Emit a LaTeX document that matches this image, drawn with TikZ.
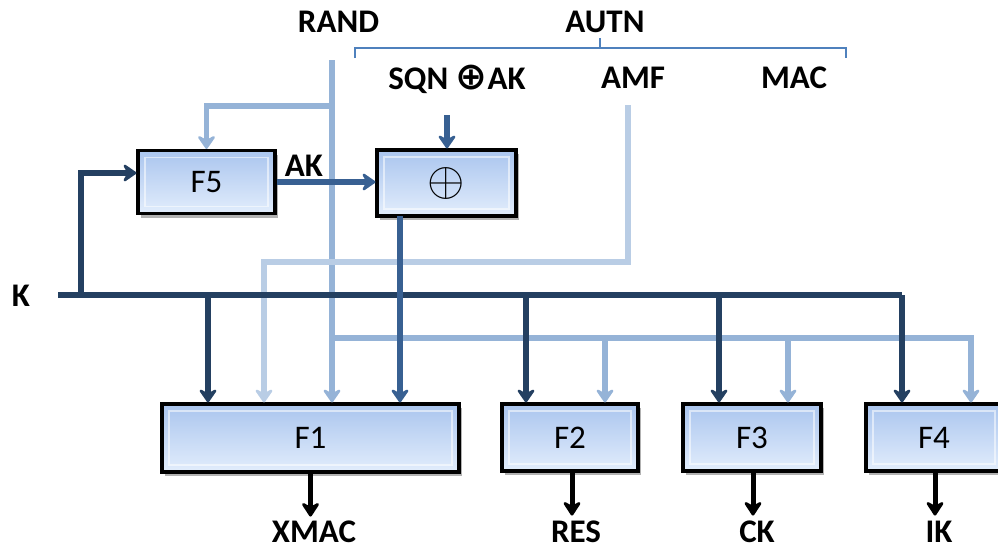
\documentclass[tikz,border=0pt]{standalone}
\usepackage{fontspec}
\usepackage{graphicx}
\setmainfont{Carlito}
\newfontfamily\symfnt{DejaVu Sans}
\usetikzlibrary{arrows.meta,shadows}
\definecolor{kcol}{RGB}{36,64,97}
\definecolor{medcol}{RGB}{56,96,146}
\definecolor{randcol}{RGB}{149,179,215}
\definecolor{amfcol}{RGB}{185,205,229}
\definecolor{bracecol}{RGB}{79,129,189}
\definecolor{boxtop}{RGB}{170,197,238}
\definecolor{boxbot}{RGB}{226,237,252}
\begin{document}
\begin{tikzpicture}[x=1pt,y=-1pt,
  tip/.style={-{Stealth[length=16pt,width=22pt,inset=6pt,round]}},
  fbox/.style={draw=black,line width=3.2pt,top color=boxtop,bottom color=boxbot,
    drop shadow={shadow xshift=3pt,shadow yshift=-4pt,opacity=0.3,fill=black},
    path picture={\draw[white,opacity=0.55,line width=1.2pt]
      ([shift={(7pt,-7pt)}]path picture bounding box.north west) rectangle
      ([shift={(-7pt,7pt)}]path picture bounding box.south east);},
    font=\fontsize{33}{36}\selectfont,inner sep=0pt},
  lab/.style={font=\fontsize{33}{36}\selectfont\bfseries,inner sep=0pt},
  kline/.style={draw=kcol,line width=5.5pt},
  medline/.style={draw=medcol,line width=5.5pt},
  randline/.style={draw=randcol,line width=5.5pt},
  amfline/.style={draw=amfcol,line width=5.5pt},
  outline/.style={draw=black,line width=5pt,-{Stealth[length=17pt,width=22pt,inset=6pt,round]}},
  bracestyle/.style={draw=bracecol,line width=2.4pt}]
\useasboundingbox (0,0) rectangle (998,549);

% boxes
\node[fbox,minimum width=137pt,minimum height=63pt] (F5) at (206.5,182) {F5};
\node[fbox,minimum width=139pt,minimum height=66pt] (xor) at (446.5,183) {\fontsize{10}{12}\selectfont\scalebox{4.8}{$\oplus$}};
\node[fbox,minimum width=297pt,minimum height=68pt] (F1) at (310.5,438) {F1};
\node[fbox,minimum width=136pt,minimum height=67pt] (F2) at (570,437.5) {F2};
\node[fbox,minimum width=138pt,minimum height=67pt] (F3) at (752,437.5) {F3};
\node[fbox,minimum width=136pt,minimum height=67pt] (F4) at (934,437.5) {F4};

% labels
\node[lab] (rand) at (338.5,22) {RAND};
\node[lab] (autn) at (605,22) {AUTN};
\node[lab] (sqn) at (457,79) {SQN {\symfnt\bfseries\fontsize{38}{38}\selectfont ⊕}AK};
\node[lab] (amf) at (633,78) {AMF};
\node[lab] (mac) at (794,78) {MAC};
\node[lab] (ak) at (304,166) {AK};
\node[lab] (K) at (21,296) {K};
\node[lab] (xmac) at (314,532) {XMAC};
\node[lab] (res) at (576,532) {RES};
\node[lab] (ck) at (757,532) {CK};
\node[lab] (ik) at (939,532) {IK};

% AUTN brace
\draw[bracestyle] (355,58) -- (355,48) -- (846,48) -- (846,58);
\draw[bracestyle] (600,48) -- (600,38);

% RAND
\coordinate (randtop) at (332,60);
\coordinate (randsplit) at (332,106);
\coordinate (randbus) at (332,338);
\coordinate (r2) at (605,338);
\coordinate (r3) at (788,338);
\coordinate (r4) at (971,338);
\draw[randline,tip] (randtop) -- (randtop |- F1.north);
\draw[randline,tip] (randsplit) -| (F5.north);
\draw[randline,tip] (randbus) -| (r4 |- F4.north);
\draw[randline,tip] (r2) -- (r2 |- F2.north);
\draw[randline,tip] (r3) -- (r3 |- F3.north);

% AMF
\coordinate (amftop) at (628,105);
\coordinate (amfx) at (264,262);
\draw[amfline,tip] (amftop) |- (amfx) -- (amfx |- F1.north);

% K
\coordinate (kstart) at (58,295);
\coordinate (kup) at (81,295);
\coordinate (k1) at (208,295);
\coordinate (k2) at (526,295);
\coordinate (k3) at (719,295);
\coordinate (kend) at (902,295);
\coordinate (kf5) at (81,173);
\draw[kline] (kstart) -- (kend);
\draw[kline,tip] (kend) -- (kend |- F4.north);
\draw[kline,tip] (k1) -- (k1 |- F1.north);
\draw[kline,tip] (k2) -- (k2 |- F2.north);
\draw[kline,tip] (k3) -- (k3 |- F3.north);
\draw[kline,tip] (kup) -- (kf5) -- (kf5 -| F5.west);

% AK and xor
\coordinate (sqnin) at (447,115);
\coordinate (xo) at (400,216);
\draw[medline,tip] (F5.east) -- (F5.east -| xor.west);
\draw[medline,tip] (sqnin) -- (sqnin |- xor.north);
\draw[medline,tip] (xo) -- (xo |- F1.north);

% outputs
\draw[outline] (F1.south) -- ++(0,43);
\draw[outline] ([xshift=2pt]F2.south) -- ++(0,43);
\draw[outline] ([xshift=1pt]F3.south) -- ++(0,43);
\draw[outline] ([xshift=1pt]F4.south) -- ++(0,43);
\end{tikzpicture}
\end{document}
